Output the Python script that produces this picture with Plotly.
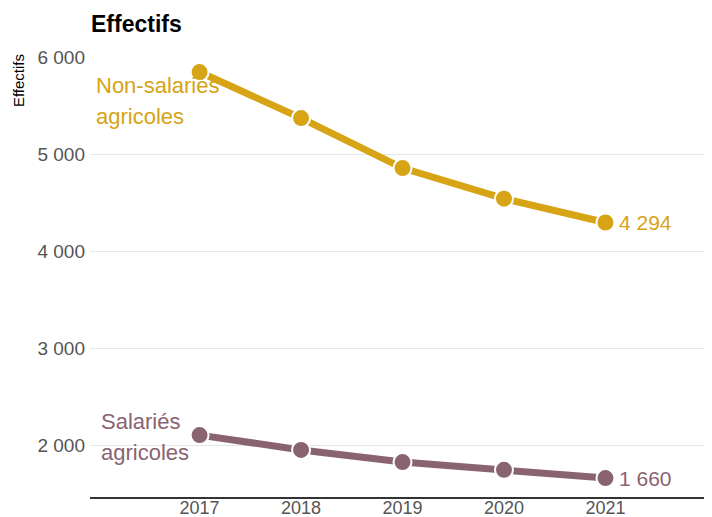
import plotly.graph_objects as go

annees = [2017, 2018, 2019, 2020, 2021]
non_salaries = [5845, 5370, 4855, 4540, 4294]
salaries = [2103, 1950, 1825, 1745, 1660]
ticks_y = [2000, 3000, 4000, 5000, 6000]

or_col = "#d6a415"
mauve = "#8a6371"
police = "Liberation Sans, Arial, sans-serif"

# la page ajoute 8px de marge autour du graphique
W, H = 704, 509

fig = go.Figure()

for vals, col in [(non_salaries, or_col), (salaries, mauve)]:
    fig.add_trace(go.Scatter(
        x=annees, y=vals, mode="lines+markers",
        line=dict(color=col, width=7),
        marker=dict(size=18, color=col, line=dict(color="white", width=2)),
        hoverinfo="x+y", showlegend=False,
    ))

# étiquettes des séries (une annotation par ligne pour l'interligne)
def etiquette(x, y, txt, col):
    fig.add_annotation(x=x, y=y, xref="x", yref="y", text=txt, showarrow=False,
                       xanchor="left", font=dict(family=police, size=22, color=col))

etiquette(2015.96, 5710, "Non-salariés", or_col)
etiquette(2015.96, 5390, "agricoles", or_col)
etiquette(2016.01, 2245, "Salariés", mauve)
etiquette(2016.01, 1925, "agricoles", mauve)

# dernières valeurs
fig.add_annotation(x=annees[-1], y=non_salaries[-1], text="4 294", showarrow=False,
                   xanchor="left", xshift=12, font=dict(family=police, size=21, color=or_col))
fig.add_annotation(x=annees[-1], y=salaries[-1], text="1 660", showarrow=False,
                   xanchor="left", xshift=12, font=dict(family=police, size=21, color=mauve))

# titre de l'axe y
fig.add_annotation(xref="paper", yref="paper", x=-0.116, y=1.012, xanchor="center", yanchor="top",
                   text="Effectifs", showarrow=False, textangle=-90,
                   font=dict(family=police, size=15, color="black"))

fig.update_layout(
    width=W, height=H,
    margin=dict(l=82, r=0, t=49, b=20),
    paper_bgcolor="white", plot_bgcolor="white",
    separators=", ",
    title=dict(text="<b>Effectifs</b>", x=83 / W, xref="container", xanchor="left",
               y=1 - 16 / H, yref="container", yanchor="middle",
               font=dict(family=police, size=23, color="black")),
    font=dict(family=police),
)
fig.update_xaxes(range=[2015.92, 2022.05], tickvals=annees, showgrid=False,
                 showline=True, linecolor="#333", linewidth=2, ticks="",
                 tickfont=dict(size=18, color="#555"), zeroline=False,
                 automargin=False, ticklabelstandoff=-7)
fig.update_yaxes(range=[1465, 6000], tickvals=ticks_y, tickformat=",d",
                 showgrid=True, gridcolor="#e6e6e6", gridwidth=1, zeroline=False,
                 tickfont=dict(size=19, color="#555"), ticks="", ticklabelstandoff=4,
                 automargin=False)

fig.write_html("out.html")
